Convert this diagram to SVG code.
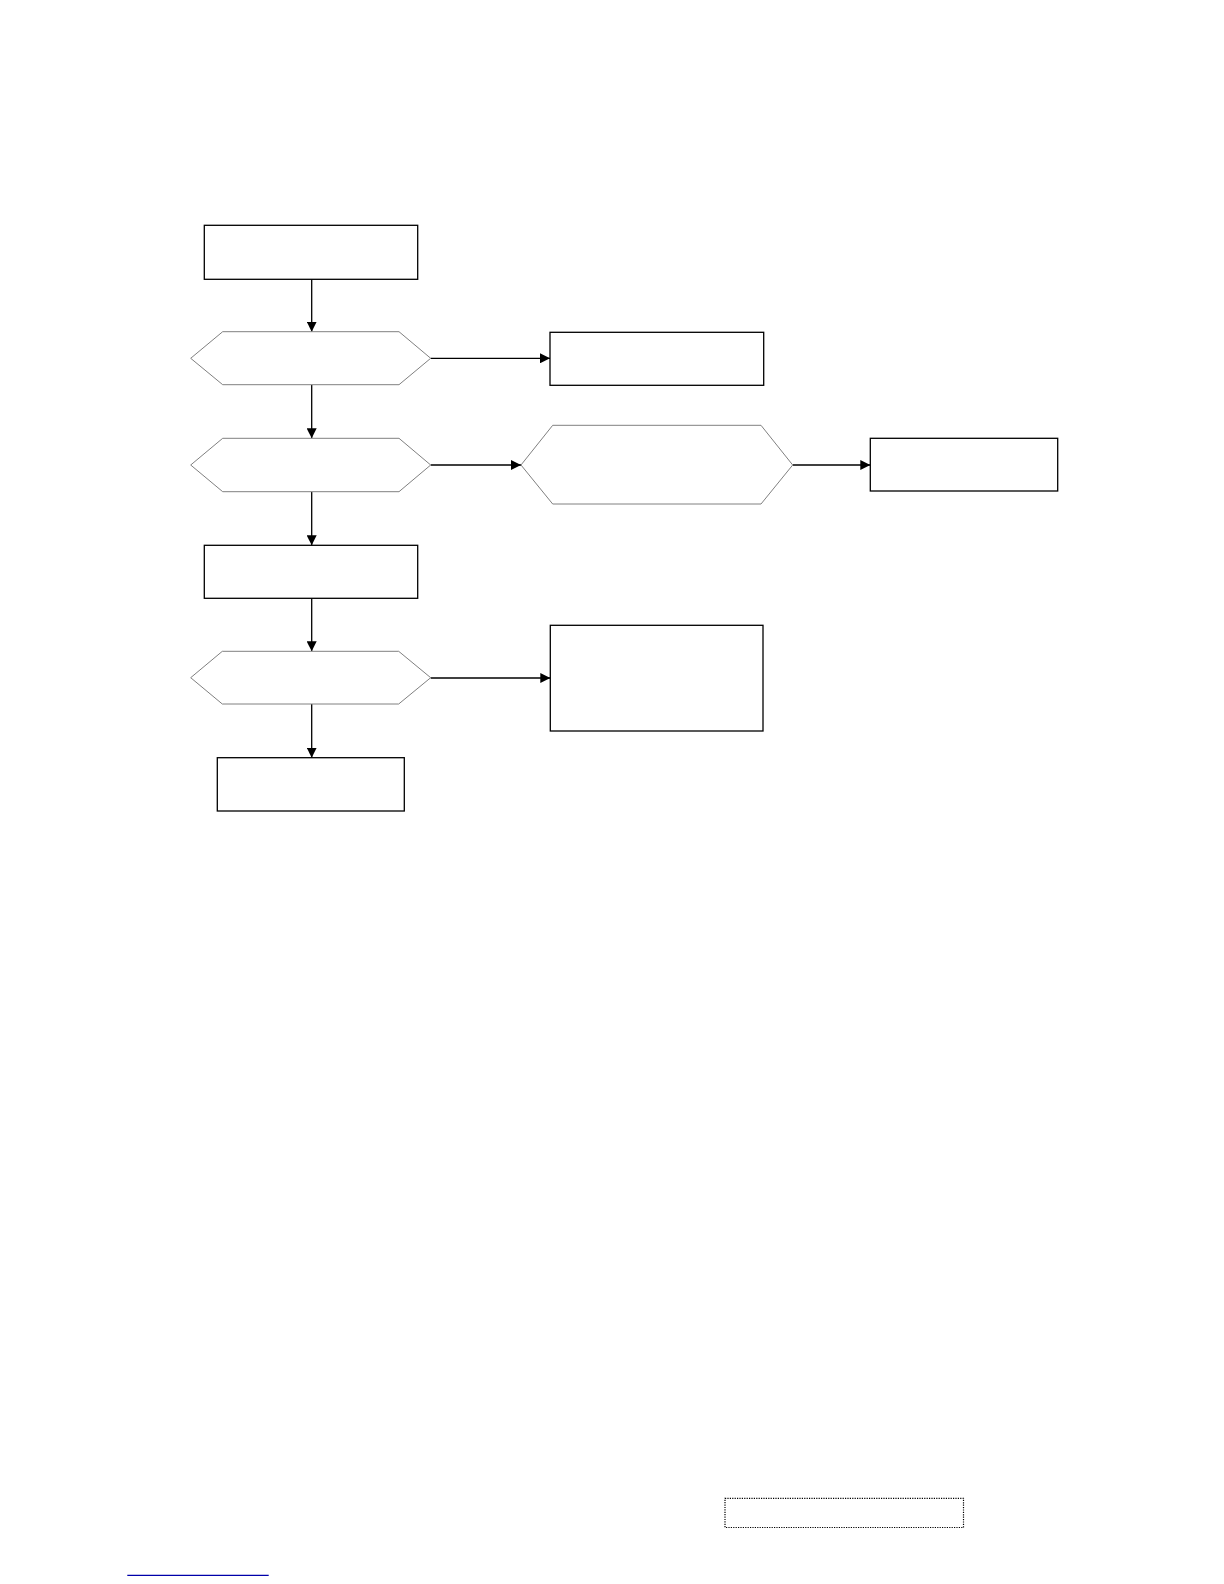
<svg xmlns="http://www.w3.org/2000/svg" width="1224" height="1584" viewBox="0 0 1224 1584">
<style>
.box{fill:#fff;stroke:#000;stroke-width:1.3}
.hex{fill:#fff;stroke:#808080;stroke-width:1}
.conn{fill:none;stroke:#000;stroke-width:1.3}
</style>
<defs>
<marker id="arr" markerUnits="userSpaceOnUse" markerWidth="11" markerHeight="10" refX="10" refY="5" orient="auto">
<path d="M0,0 L10,5 L0,10 Z" fill="#000"/>
</marker>
</defs>
<rect width="1224" height="1584" fill="#fff"/>
<g id="connectors">
<line class="conn" x1="311.7" y1="279.3" x2="311.7" y2="331.7" marker-end="url(#arr)"/>
<line class="conn" x1="311.7" y1="384.7" x2="311.7" y2="438.3" marker-end="url(#arr)"/>
<line class="conn" x1="311.7" y1="491.7" x2="311.7" y2="545.3" marker-end="url(#arr)"/>
<line class="conn" x1="311.7" y1="598.3" x2="311.7" y2="651.3" marker-end="url(#arr)"/>
<line class="conn" x1="311.7" y1="704" x2="311.7" y2="757.7" marker-end="url(#arr)"/>
<line class="conn" x1="430.7" y1="358.3" x2="550" y2="358.3" marker-end="url(#arr)"/>
<line class="conn" x1="430.7" y1="465" x2="521" y2="465" marker-end="url(#arr)"/>
<line class="conn" x1="792.7" y1="465" x2="870.3" y2="465" marker-end="url(#arr)"/>
<line class="conn" x1="430.7" y1="678" x2="550.3" y2="678" marker-end="url(#arr)"/>
</g>
<g id="n1"><rect class="box" x="204.3" y="225.3" width="213.4" height="54"/></g>
<g id="n2"><polygon class="hex" points="190.7,358.3 222.7,331.7 399,331.7 430.7,358.3 399,384.7 222.7,384.7"/></g>
<g id="n3"><rect class="box" x="550" y="332.3" width="213.7" height="53"/></g>
<g id="n4"><polygon class="hex" points="190.7,465 222.7,438.3 399,438.3 430.7,465 399,491.7 222.7,491.7"/></g>
<g id="n5"><polygon class="hex" points="521,465 552.7,425.3 761,425.3 792.7,465 761,504 552.7,504"/></g>
<g id="n6"><rect class="box" x="870.3" y="438.3" width="187.4" height="52.7"/></g>
<g id="n7"><rect class="box" x="204.3" y="545.3" width="213.4" height="53"/></g>
<g id="n8"><polygon class="hex" points="190.7,677.7 222.3,651.3 398.7,651.3 430.7,677.7 398.7,704 222.3,704"/></g>
<g id="n9"><rect class="box" x="550.3" y="625.3" width="212.7" height="105.7"/></g>
<g id="n10"><rect class="box" x="217.3" y="757.7" width="187" height="53.3"/></g>
<g id="footer">
<rect x="725" y="1498.3" width="238.5" height="29.2" fill="none" stroke="#000" stroke-width="1.2" stroke-dasharray="1.2,1.2"/>
<line x1="127.3" y1="1575.3" x2="268.7" y2="1575.3" stroke="#0000aa" stroke-width="1.3"/>
</g>
</svg>
